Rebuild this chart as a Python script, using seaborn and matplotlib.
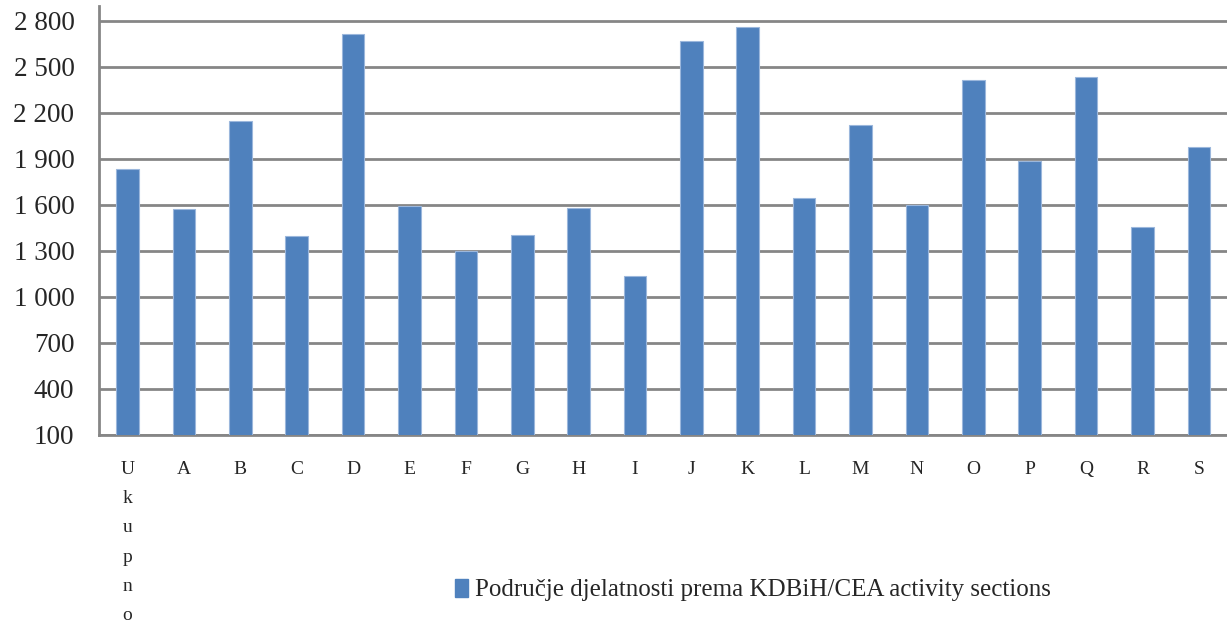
import pandas as pd
import matplotlib
matplotlib.use('Agg')
import matplotlib.pyplot as plt
import seaborn as sns
from matplotlib.patches import Patch
from matplotlib.ticker import FuncFormatter

# Podaci očitani s grafikona
kategorije = ['Ukupno', 'A', 'B', 'C', 'D', 'E', 'F', 'G', 'H', 'I',
              'J', 'K', 'L', 'M', 'N', 'O', 'P', 'Q', 'R', 'S']
vrijednosti = [1831, 1572, 2148, 1394, 2718, 1595, 1298, 1402, 1579, 1135,
               2672, 2763, 1644, 2118, 1602, 2418, 1887, 2435, 1457, 1978]
y_ticks = [100, 400, 700, 1000, 1300, 1600, 1900, 2200, 2500, 2800]
legenda = 'Područje djelatnosti prema KDBiH/CEA activity sections'

df = pd.DataFrame({'kategorija': kategorije, 'vrijednost': vrijednosti})

sns.set_style('white')
plt.rcParams['font.family'] = ['Liberation Serif', 'DejaVu Serif']

boja = '#4F81BD'
siva = '#868686'

fig = plt.figure(figsize=(12.27, 6.23), dpi=100)
ax = fig.add_axes([0.081, 0.302, 0.919, 0.688])

sns.barplot(data=df, x='kategorija', y='vrijednost', color=boja, width=0.4,
            saturation=1, edgecolor='#9BB7DC', linewidth=0.8, ax=ax, zorder=3)

ax.set_ylim(100, 2896)
ax.set_xlim(-0.5, len(kategorije) - 0.5)
ax.set_yticks(y_ticks)
ax.yaxis.set_major_formatter(FuncFormatter(lambda v, p: f'{int(v):,}'.replace(',', ' ')))
ax.grid(axis='y', color=siva, linewidth=2, zorder=0)
ax.set_axisbelow(True)

for s in ['top', 'right']:
    ax.spines[s].set_visible(False)
for s in ['left', 'bottom']:
    ax.spines[s].set_color(siva)
    ax.spines[s].set_linewidth(2)

# Oznaka "Ukupno" ispisana okomito, slovo po slovo
x_oznake = ['\n'.join(kategorije[0])] + kategorije[1:]
ax.set_xticks(range(len(kategorije)))
ax.set_xticklabels(x_oznake)
ax.tick_params(axis='x', length=0, pad=19, labelsize=14)
ax.tick_params(axis='y', length=0, pad=18, labelsize=19.5)
ax.xaxis.get_major_ticks()[0].label1.set_linespacing(1.93)
ax.set_xlabel('')
ax.set_ylabel('')

fig.legend(handles=[Patch(facecolor=boja, edgecolor=boja)], labels=[legenda],
           loc='center', bbox_to_anchor=(753 / 1227, 0.053), frameon=False,
           fontsize=18, handlelength=0.5, handleheight=0.75, handletextpad=0.3)

plt.savefig('out.png', dpi=100)
